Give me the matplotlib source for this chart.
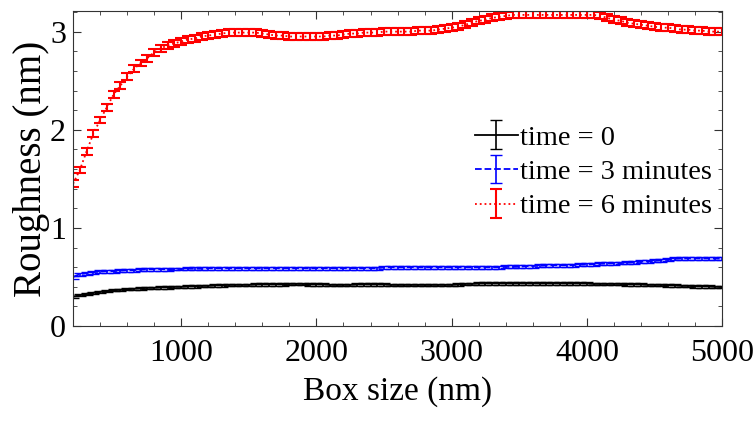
import numpy as np
import matplotlib
matplotlib.use("Agg")
import matplotlib.pyplot as plt
from matplotlib.ticker import MultipleLocator

plt.rcParams['font.family'] = ['Liberation Serif', 'DejaVu Serif']

# box sizes (nm), sampled every 50 nm
box_size = np.arange(200, 5001, 50)

# time = 0
rough_t0 = [
    0.300, 0.315, 0.330, 0.340, 0.350, 0.355, 0.365, 0.370, 0.375, 0.380,
    0.385, 0.390, 0.390, 0.395, 0.395, 0.400, 0.400, 0.405, 0.405, 0.410,
    0.410, 0.415, 0.415, 0.420, 0.420, 0.420, 0.420, 0.425, 0.425, 0.425,
    0.425, 0.425, 0.430, 0.430, 0.430, 0.425, 0.425, 0.425, 0.420, 0.420,
    0.420, 0.420, 0.425, 0.425, 0.425, 0.425, 0.425, 0.420, 0.420, 0.420,
    0.420, 0.420, 0.420, 0.420, 0.420, 0.420, 0.420, 0.425, 0.430, 0.430,
    0.435, 0.435, 0.435, 0.435, 0.435, 0.435, 0.435, 0.435, 0.435, 0.435,
    0.435, 0.435, 0.435, 0.435, 0.435, 0.435, 0.435, 0.430, 0.430, 0.430,
    0.430, 0.430, 0.425, 0.425, 0.425, 0.420, 0.420, 0.420, 0.415, 0.415,
    0.410, 0.410, 0.405, 0.405, 0.405, 0.400, 0.400,
]

# time = 3 minutes
rough_t3 = [
    0.500, 0.530, 0.540, 0.550, 0.555, 0.560, 0.560, 0.565, 0.570, 0.570,
    0.575, 0.580, 0.580, 0.580, 0.580, 0.582, 0.582, 0.585, 0.585, 0.585,
    0.590, 0.590, 0.590, 0.590, 0.590, 0.590, 0.590, 0.590, 0.590, 0.590,
    0.590, 0.590, 0.590, 0.590, 0.590, 0.590, 0.590, 0.590, 0.590, 0.590,
    0.590, 0.590, 0.590, 0.590, 0.590, 0.590, 0.600, 0.600, 0.600, 0.600,
    0.600, 0.600, 0.600, 0.600, 0.600, 0.600, 0.600, 0.600, 0.600, 0.600,
    0.600, 0.600, 0.600, 0.600, 0.603, 0.603, 0.605, 0.610, 0.612, 0.615,
    0.618, 0.620, 0.620, 0.620, 0.622, 0.625, 0.628, 0.632, 0.635, 0.638,
    0.640, 0.643, 0.645, 0.650, 0.655, 0.660, 0.665, 0.670, 0.675, 0.685,
    0.690, 0.690, 0.690, 0.690, 0.690, 0.688, 0.688,
]

# time = 6 minutes
rough_t6 = [
    1.45, 1.59, 1.78, 1.96, 2.10, 2.23, 2.36, 2.45, 2.54, 2.62,
    2.68, 2.73, 2.79, 2.83, 2.86, 2.88, 2.90, 2.92, 2.93, 2.95,
    2.96, 2.97, 2.98, 2.99, 2.99, 2.99, 2.99, 2.99, 2.98, 2.97,
    2.96, 2.96, 2.95, 2.95, 2.95, 2.95, 2.95, 2.95, 2.96, 2.96,
    2.97, 2.98, 2.98, 2.99, 2.99, 2.99, 3.00, 3.00, 3.00, 3.00,
    3.00, 3.01, 3.01, 3.01, 3.02, 3.03, 3.04, 3.05, 3.07, 3.09,
    3.11, 3.12, 3.14, 3.15, 3.16, 3.17, 3.17, 3.17, 3.17, 3.17,
    3.17, 3.17, 3.17, 3.17, 3.17, 3.17, 3.17, 3.17, 3.16, 3.14,
    3.12, 3.11, 3.09, 3.08, 3.07, 3.06, 3.05, 3.04, 3.04, 3.03,
    3.02, 3.02, 3.01, 3.01, 3.00, 3.00, 3.00,
]

# rough error bar half-heights (nm)
err_t0 = 0.012
err_t3 = 0.015
err_t6 = 0.035

labels = ["time = 0", "time = 3 minutes", "time = 6 minutes"]

fig = plt.figure(figsize=(7.53, 4.23), dpi=100)
ax = fig.add_axes([0.097, 0.229, 0.862, 0.745])

ax.errorbar(box_size, rough_t0, yerr=err_t0, color="black", linestyle="-",
            linewidth=1.3, elinewidth=1.2, capsize=4, label=labels[0])
ax.errorbar(box_size, rough_t3, yerr=err_t3, color="blue", linestyle="--",
            linewidth=1.3, elinewidth=1.2, capsize=4, label=labels[1])
ax.errorbar(box_size, rough_t6, yerr=err_t6, color="red", linestyle=":",
            linewidth=1.3, elinewidth=1.5, capsize=4.5, capthick=1.5,
            label=labels[2])

ax.set_xlim(200, 5000)
ax.set_ylim(0, 3.21)
ax.set_xticks([1000, 2000, 3000, 4000, 5000])
ax.set_yticks([0, 1, 2, 3])
ax.xaxis.set_minor_locator(MultipleLocator(200))
ax.yaxis.set_minor_locator(MultipleLocator(0.2))
ax.tick_params(which="both", direction="in", top=True, right=True,
               labelsize=23, color="#333333")
ax.tick_params(which="major", length=6)
ax.tick_params(which="minor", length=3)
ax.tick_params(axis="x", pad=9)
ax.tick_params(axis="y", pad=5)
for s in ax.spines.values():
    s.set_color("#333333")
    s.set_linewidth(0.8)

ax.set_xlabel("Box size (nm)", fontsize=24, labelpad=6)
ax.set_ylabel("Roughness (nm)", fontsize=28, labelpad=0)

ax.legend(loc="center left", bbox_to_anchor=(0.619, 0.489), frameon=False,
          fontsize=20.5, handlelength=1.5, handletextpad=0.1, labelspacing=0.3,
          borderpad=0, borderaxespad=0)

fig.savefig("out.png", dpi=100)
